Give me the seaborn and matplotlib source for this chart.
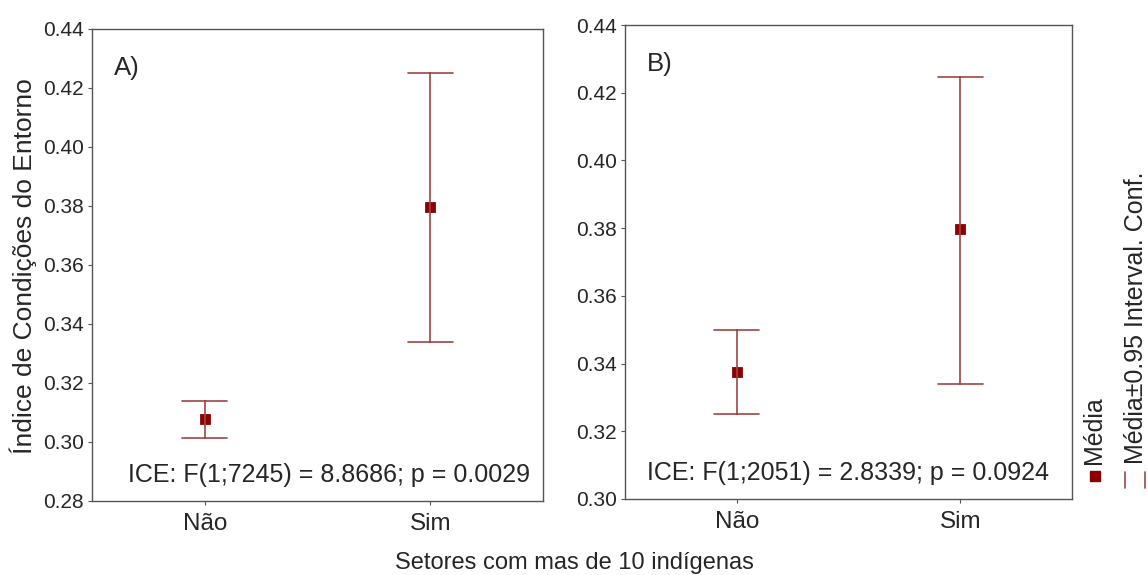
import pandas as pd
import matplotlib
matplotlib.use('Agg')
import matplotlib.pyplot as plt
import seaborn as sns

# Values (mean and 0.95 CI bounds)
groups = ['Não', 'Sim']

a_mean = [0.3078, 0.3797]
a_low = [0.3013, 0.3338]
a_high = [0.3140, 0.4250]

b_mean = [0.3374, 0.3797]
b_low = [0.3251, 0.3340]
b_high = [0.3499, 0.4247]

a_yticks = [0.28, 0.30, 0.32, 0.34, 0.36, 0.38, 0.40, 0.42, 0.44]
b_yticks = [0.30, 0.32, 0.34, 0.36, 0.38, 0.40, 0.42, 0.44]

a_note = 'ICE: F(1;7245) = 8.8686; p = 0.0029'
b_note = 'ICE: F(1;2051) = 2.8339; p = 0.0924'

MARKER_COLOR = '#8b0000'
LINE_COLOR = '#a04545'
YTICK_FS = 15
XTICK_FS = 17.5
NOTE_FS = 18
LETTER_FS = 18.5

sns.set_style('white')
plt.rcParams['font.family'] = ['Liberation Sans', 'DejaVu Sans']


def make_frame(mean, low, high):
    # three rows per group: median gives the mean, min/max give the CI
    rows = []
    for g, m, lo, hi in zip(groups, mean, low, high):
        for v in (lo, m, hi):
            rows.append({'grupo': g, 'valor': v})
    return pd.DataFrame(rows)


def draw_panel(ax, mean, low, high, yticks, letter, note, note_x):
    df = make_frame(mean, low, high)
    sns.pointplot(data=df, x='grupo', y='valor', order=groups,
                  estimator='median', errorbar=lambda v: (v.min(), v.max()),
                  linestyle='none', markers='s', markersize=6,
                  color=MARKER_COLOR, capsize=0.2,
                  err_kws={'color': LINE_COLOR, 'linewidth': 1.2},
                  ax=ax)
    # bring markers above error bars
    for coll in ax.collections:
        coll.set_zorder(5)
    ax.set_xlim(-0.5, 1.5)
    ax.set_ylim(yticks[0], yticks[-1])
    ax.set_yticks(yticks)
    ax.set_yticklabels([f'{t:.2f}' for t in yticks])
    ax.set_xlabel('')
    ax.set_ylabel('')
    ax.tick_params(axis='both', direction='out', length=3,
                   width=0.8, color='#555555', left=True, bottom=True)
    ax.tick_params(axis='y', labelsize=YTICK_FS, pad=3)
    ax.tick_params(axis='x', labelsize=XTICK_FS, pad=6)
    for s in ax.spines.values():
        s.set_color('#555555')
        s.set_linewidth(1.0)
    ax.text(0.048, 0.917, letter, transform=ax.transAxes, fontsize=LETTER_FS,
            ha='left', va='center')
    ax.text(note_x, 0.055, note, transform=ax.transAxes, fontsize=NOTE_FS,
            ha='center', va='center')


fig = plt.figure(figsize=(11.48, 5.75), dpi=100)
ax_a = fig.add_axes([0.0801, 0.1287, 0.3929, 0.8209])
ax_b = fig.add_axes([0.5444, 0.1322, 0.3894, 0.8243])

draw_panel(ax_a, a_mean, a_low, a_high, a_yticks, 'A)', a_note, 0.526)
draw_panel(ax_b, b_mean, b_low, b_high, b_yticks, 'B)', b_note, 0.50)

fig.text(23 / 1148, 1 - 266 / 575, 'Índice de Condições do Entorno',
         rotation=90, fontsize=19, ha='center', va='center')
fig.text(0.5, 1 - 563 / 575, 'Setores com mas de 10 indígenas', fontsize=17,
         ha='center', va='center')

# rotated legend on the right edge
fig.text(1094 / 1148, 1 - 464 / 575, 'Média', rotation=90, fontsize=18,
         ha='center', va='bottom')
fig.text(1136 / 1148, 1 - 464 / 575, 'Média±0.95 Interval. Conf.', rotation=90,
         fontsize=18, ha='center', va='bottom')
fig.lines.append(plt.Line2D([1095 / 1148], [1 - 476 / 575], marker='s',
                            markersize=7, color=MARKER_COLOR, linestyle='none',
                            transform=fig.transFigure))
for xp in (1125, 1145):
    fig.lines.append(plt.Line2D([xp / 1148, xp / 1148],
                                [1 - 472 / 575, 1 - 488 / 575],
                                color=LINE_COLOR, linewidth=1.2,
                                transform=fig.transFigure))

fig.savefig('out.png', dpi=100)
